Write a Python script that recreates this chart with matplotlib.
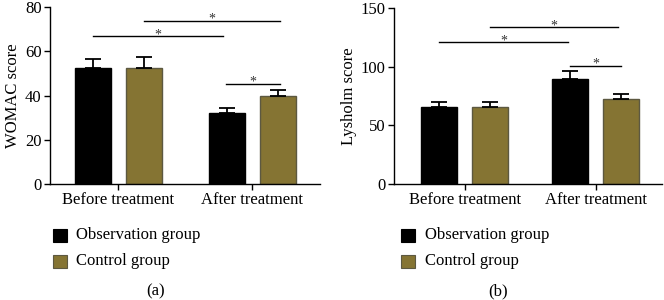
import matplotlib
matplotlib.use("Agg")
import matplotlib.pyplot as plt
import numpy as np
from matplotlib.patches import Rectangle

plt.rcParams['font.family'] = ['Liberation Serif', 'DejaVu Serif']

categories = ["Before treatment", "After treatment"]
groups = ["Observation group", "Control group"]
colors = ["#000000", "#857433"]
edgecolors = ["#000000", "#5c5841"]

womac_obs = [52.3, 32.1]
womac_obs_err = [4.2, 2.4]
womac_ctrl = [52.3, 39.9]
womac_ctrl_err = [5.0, 2.7]

lys_obs = [65.5, 89.4]
lys_obs_err = [4.8, 7.1]
lys_ctrl = [65.5, 72.6]
lys_ctrl_err = [4.8, 4.5]

W, H = 664, 300
fig = plt.figure(figsize=(W / 100, H / 100), dpi=100)

FS = 12


def px_axes(l, r, t, b):
    return fig.add_axes([l / W, 1 - b / H, (r - l) / W, (b - t) / H])


def panel(ax, obs, obs_err, ctrl, ctrl_err, ylim, yticks, ylabel, xlim, off, width, sig):
    x = np.arange(len(categories))
    ekw = dict(ecolor="black", elinewidth=1.3, capthick=1.3)
    ax.bar(x + off[0], obs, width, color=colors[0], edgecolor=edgecolors[0], linewidth=1,
           yerr=[np.zeros(len(obs)), obs_err], capsize=6, error_kw=ekw, zorder=2)
    ax.bar(x + off[1], ctrl, width, color=colors[1], edgecolor=edgecolors[1], linewidth=1,
           yerr=[np.zeros(len(ctrl)), ctrl_err], capsize=6, error_kw=ekw, zorder=2)
    ax.set_xlim(*xlim)
    ax.set_ylim(*ylim)
    ax.set_yticks(yticks)
    ax.set_xticks(x)
    ax.set_xticklabels(categories, fontsize=FS)
    ax.tick_params(axis='y', labelsize=FS, length=4, width=1, pad=2)
    ax.tick_params(axis='x', length=4, width=1, pad=2)
    ax.set_ylabel(ylabel, fontsize=FS, labelpad=3)
    for s in ["top", "right"]:
        ax.spines[s].set_visible(False)
    for s in ["left", "bottom"]:
        ax.spines[s].set_linewidth(1)
    for (x0, x1, y) in sig:
        ax.plot([x0, x1], [y, y], color="black", lw=1, clip_on=False)
        ax.annotate("*", xy=((x0 + x1) / 2, y), xytext=(0, -1.5), textcoords="offset points",
                    ha="center", va="baseline", fontsize=10, color="#333333",
                    annotation_clip=False)


axa = px_axes(50, 320, 7, 184)
panel(axa, womac_obs, womac_obs_err, womac_ctrl, womac_ctrl_err,
      (0, 80), [0, 20, 40, 60, 80], "WOMAC score",
      (-0.507, 1.507), (-0.187, 0.194), 0.27,
      [(-0.187, 0.784, 66.8), (0.194, 1.21, 73.8), (0.806, 1.21, 45.3)])

axb = px_axes(394, 662, 8, 184)
panel(axb, lys_obs, lys_obs_err, lys_ctrl, lys_ctrl_err,
      (0, 150), [0, 50, 100, 150], "Lysholm score",
      (-0.544, 1.504), (-0.198, 0.19), 0.275,
      [(-0.198, 0.786, 121), (0.19, 1.168, 133.8), (0.802, 1.19, 100.7)])

# legends and panel labels
for lx, cx in [(53, 76), (401, 425)]:
    for i, g in enumerate(groups):
        yc = 235 + i * 26
        fig.patches.append(Rectangle((lx / W, 1 - (yc + 6.5) / H), 14 / W, 13 / H,
                                     transform=fig.transFigure, facecolor=colors[i],
                                     edgecolor=edgecolors[i], linewidth=0.8))
        fig.text(cx / W, 1 - yc / H, g, fontsize=FS, va="center", ha="left")

fig.text(156 / W, 1 - 291 / H, "(a)", fontsize=FS, ha="center", va="center")
fig.text(498 / W, 1 - 291 / H, "(b)", fontsize=FS, ha="center", va="center")

fig.savefig("out.png", dpi=100)
